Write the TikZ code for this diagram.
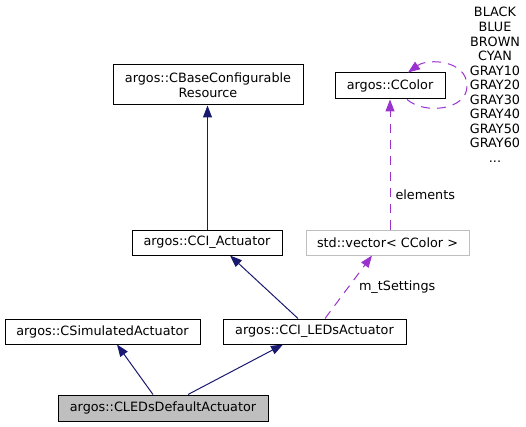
\documentclass[tikz,border=0pt]{standalone}
\usepackage{fontspec}
\setmainfont{DejaVu Sans}
\usetikzlibrary{arrows.meta}
\definecolor{inh}{HTML}{191970}
\definecolor{use}{HTML}{9A32CD}
\definecolor{grayfill}{HTML}{BFBFBF}
\tikzset{
  cls/.style={draw=black, line width=1pt, fill=white, inner sep=0pt, minimum height=25pt, font=\fontsize{12.8}{14.56}\selectfont, align=center},
  inhedge/.style={draw=inh, line width=1pt, -{Triangle[length=12pt,width=9pt]}},
  useedge/.style={draw=use, line width=1pt, dash pattern=on 9pt off 7pt, -{Triangle[length=12pt,width=9pt]}},
  lbl/.style={font=\fontsize{12.8}{14.56}\selectfont, inner sep=0pt, align=center}
}
\begin{document}
\begin{tikzpicture}[x=1pt,y=-1pt]
\useasboundingbox (0,0) rectangle (526,427);
\node[cls, minimum width=190pt, minimum height=40pt] (base) at (208,85) {argos::CBaseConfigurable\\Resource};
\node[cls, minimum width=110pt, minimum height=26pt] (color) at (390,86) {argos::CColor};
\node[cls, minimum width=150pt] (cci) at (207,242.5) {argos::CCI\_Actuator};
\node[cls, draw=grayfill, minimum width=163pt] (vec) at (387.5,242.5) {std::vector\textless{} CColor \textgreater{}};
\node[cls, minimum width=195pt] (sim) at (102.5,331.5) {argos::CSimulatedActuator};
\node[cls, minimum width=183pt] (leds) at (314.5,331.5) {argos::CCI\_LEDsActuator};
\node[cls, fill=grayfill, minimum width=210pt, minimum height=26pt] (def) at (163,408) {argos::CLEDsDefaultActuator};

\draw[inhedge] ([xshift=0.5pt]cci.north) -- ([xshift=-0.5pt]base.south);
\draw[inhedge] ([xshift=-16.5pt]leds.north) -- ([xshift=23pt]cci.south);
\draw[inhedge] ([xshift=-10pt]def.north) -- ([xshift=14.5pt]sim.south);
\draw[inhedge] ([xshift=25pt]def.north) -- ([xshift=-31.5pt]leds.south);

\draw[useedge] ([xshift=10.5pt]leds.north) -- node[lbl, pos=0.5, anchor=west, xshift=10pt] (ml) {m\_tSettings} ([xshift=-15.5pt]vec.south);
\draw[useedge] ([xshift=2.5pt]vec.north) -- node[lbl, anchor=west, xshift=5pt, pos=0.27] (el) {elements} (color.south);
\draw[useedge] ([xshift=17pt]color.south) .. controls (425,115) and (467,110) .. (467,86) .. controls (467,60) and (428,58) .. ([xshift=18pt]color.north);
\node[lbl] (colors) at (495,85) {BLACK\\BLUE\\BROWN\\CYAN\\GRAY10\\GRAY20\\GRAY30\\GRAY40\\GRAY50\\GRAY60\\...};
\end{tikzpicture}
\end{document}
